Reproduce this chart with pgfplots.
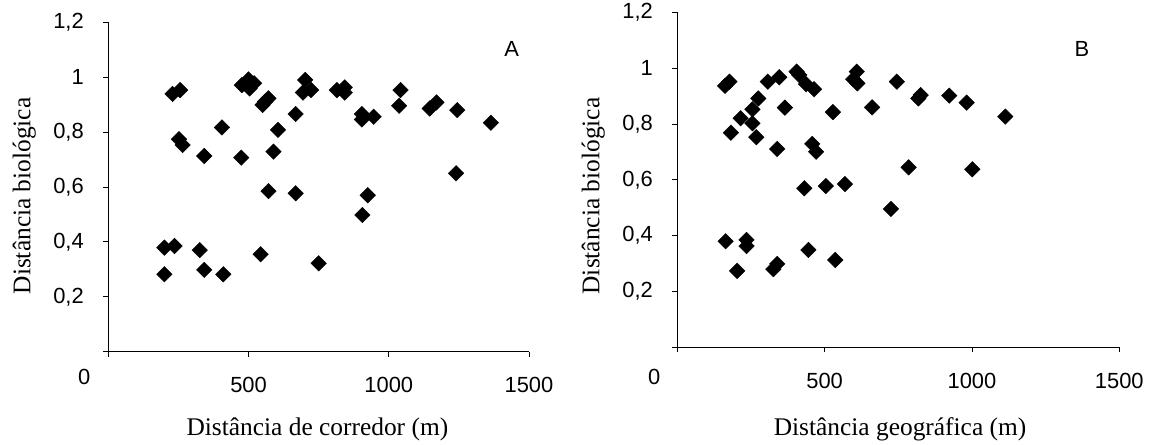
\documentclass[border=0pt]{standalone}
\usepackage{pgfplots}
\pgfplotsset{compat=1.18}
\usepackage{fontspec}
\setmainfont{Liberation Serif}
\newfontfamily\arial{Liberation Sans}

\pgfplotsset{
  excelscatter/.style={
    scale only axis,
    axis x line=bottom, axis y line=left,
    axis line style={-, line width=0.8bp},
    xmin=0, xmax=1500, ymin=0, ymax=1.2,
    xtick={0,500,1000,1500}, xticklabels={,500,1000,1500},
    ytick={0,0.2,0.4,0.6,0.8,1,1.2},
    yticklabels={,{0,2},{0,4},{0,6},{0,8},1,{1,2}},
    tick align=outside, major tick length=5bp,
    tick style={line width=0.8bp, black},
    ticklabel style={font=\arial\fontsize{22}{24}\selectfont},
    /pgf/number format/assume math mode=true,
    yticklabel style={xshift=-16bp},
    xticklabel style={yshift=-17bp},
    label style={font=\fontsize{25.5}{28}\selectfont},
    clip=false,
  },
  pts/.style={only marks, mark=square*, mark size=5.5bp,
    mark options={rotate=45, fill=black, draw=black}},
}

\begin{document}
\begin{tikzpicture}
\path[use as bounding box] (0,0) rectangle (1149bp,445bp);

% A: distancia de corredor
\begin{axis}[excelscatter,
    at={(108.3bp,93.3bp)}, anchor=south west,
    width=420.7bp, height=329.4bp,
    xlabel={Distância de corredor (m)},
    ylabel={Distância biológica},
    xlabel style={at={(axis description cs:0.497,-0.235)}, anchor=center},
    ylabel style={at={(axis description cs:-0.2,0.473)}, anchor=center},
]
\addplot[pts] coordinates {
(229,0.939)(256,0.953)(252,0.774)(265,0.753)(342,0.713)(405,0.817)(474,0.707)
(476,0.971)(500,0.992)(504,0.959)(520,0.978)(492,0.975)
(550,0.899)(571,0.923)(559,0.911)(605,0.808)(589,0.729)(668,0.866)
(571,0.585)(668,0.577)
(702,0.990)(694,0.944)(723,0.953)
(815,0.953)(843,0.963)(843,0.944)
(904,0.866)(904,0.846)(946,0.856)(925,0.570)(906,0.498)
(1042,0.953)(1037,0.896)(1146,0.886)(1170,0.908)(1244,0.880)(1240,0.650)(1364,0.834)
(200,0.379)(236,0.385)(200,0.282)(326,0.370)(342,0.298)(410,0.282)
(543,0.355)(750,0.322)
};
\node[font=\arial\fontsize{22}{24}\selectfont] at (axis cs:0,0) [xshift=-24bp, yshift=-25bp] {0};
\node[font=\arial\fontsize{22}{24}\selectfont] at (axis cs:1438,1.103) {A};
\end{axis}

% B: distancia geografica
\begin{axis}[excelscatter,
    at={(677.3bp,97.7bp)}, anchor=south west,
    width=442bp, height=334.8bp,
    xlabel={Distância geográfica (m)},
    ylabel={Distância biológica},
    xlabel style={at={(axis description cs:0.504,-0.244)}, anchor=center},
    ylabel style={at={(axis description cs:-0.19,0.452)}, anchor=center},
]
\addplot[pts] coordinates {
(162,0.937)(177,0.952)(182,0.769)(215,0.821)(255,0.853)(255,0.803)(275,0.892)
(268,0.753)(307,0.952)(346,0.968)(365,0.859)(339,0.711)
(405,0.988)(414,0.976)(437,0.943)(464,0.925)(458,0.729)(471,0.701)
(431,0.570)(504,0.578)(569,0.585)(528,0.843)
(609,0.988)(597,0.961)(611,0.946)(661,0.860)(745,0.952)
(818,0.892)(826,0.904)(923,0.902)(982,0.877)(1113,0.827)
(785,0.645)(1001,0.638)(725,0.496)
(164,0.380)(235,0.385)(235,0.363)(203,0.274)(326,0.280)(339,0.299)
(445,0.349)(536,0.313)
};
\node[font=\arial\fontsize{22}{24}\selectfont] at (axis cs:0,0) [xshift=-23bp, yshift=-30bp] {0};
\node[font=\arial\fontsize{22}{24}\selectfont] at (axis cs:1373,1.068) {B};
\end{axis}
\end{tikzpicture}
\end{document}
